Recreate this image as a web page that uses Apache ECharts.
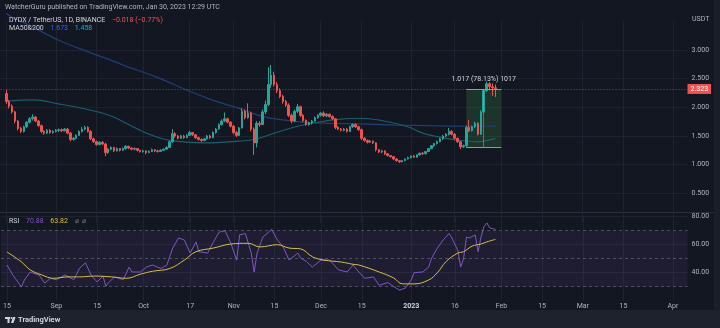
<!DOCTYPE html>
<html>
<head>
<meta charset="utf-8">
<script src="https://cdn.jsdelivr.net/npm/echarts@6/dist/echarts.min.js"></script>
<style>
  html, body { margin: 0; padding: 0; background: #131722; }
  #chart { width: 720px; height: 328px; }
</style>
</head>
<body>
<div id="chart"></div>
<script>
// DYDX / TetherUS daily candles from 2022-08-15 to 2023-01-30: [open, close, low, high]
const firstDay = '2022-08-15';
const candles = [
  [2.24,2.10,2.06,2.30],[2.10,2.02,1.98,2.13],[2.02,1.92,1.89,2.05],[1.92,1.76,1.72,1.94],[1.76,1.63,1.60,1.78],
  [1.63,1.58,1.55,1.66],[1.58,1.66,1.56,1.68],[1.66,1.74,1.64,1.76],[1.74,1.80,1.72,1.83],[1.80,1.83,1.77,1.88],
  [1.83,1.76,1.74,1.85],[1.76,1.68,1.66,1.78],[1.68,1.58,1.55,1.70],[1.58,1.55,1.52,1.60],[1.55,1.60,1.53,1.62],
  [1.60,1.56,1.54,1.62],[1.56,1.58,1.54,1.60],[1.58,1.60,1.56,1.62],[1.60,1.61,1.57,1.63],[1.61,1.59,1.57,1.63],
  [1.59,1.62,1.58,1.64],[1.62,1.55,1.53,1.64],[1.55,1.44,1.41,1.57],[1.44,1.46,1.42,1.48],[1.46,1.51,1.44,1.53],
  [1.51,1.58,1.50,1.60],[1.58,1.62,1.56,1.66],[1.62,1.65,1.60,1.68],[1.65,1.58,1.56,1.67],[1.58,1.45,1.43,1.60],
  [1.45,1.40,1.38,1.47],[1.40,1.35,1.33,1.42],[1.35,1.39,1.34,1.41],[1.39,1.36,1.34,1.41],[1.36,1.21,1.15,1.38],
  [1.21,1.27,1.19,1.29],[1.27,1.30,1.25,1.32],[1.30,1.24,1.22,1.31],[1.24,1.28,1.23,1.30],[1.28,1.25,1.23,1.29],
  [1.25,1.28,1.24,1.30],[1.28,1.32,1.26,1.34],[1.32,1.29,1.27,1.33],[1.29,1.27,1.25,1.30],[1.27,1.28,1.25,1.30],
  [1.28,1.25,1.23,1.29],[1.25,1.23,1.21,1.26],[1.23,1.24,1.21,1.26],[1.24,1.21,1.18,1.25],[1.21,1.23,1.20,1.25],
  [1.23,1.26,1.22,1.28],[1.26,1.24,1.22,1.27],[1.24,1.23,1.21,1.26],[1.23,1.25,1.22,1.27],[1.25,1.27,1.24,1.28],
  [1.27,1.30,1.26,1.32],[1.30,1.40,1.29,1.42],[1.40,1.54,1.38,1.62],[1.54,1.50,1.47,1.57],[1.50,1.46,1.44,1.52],
  [1.46,1.50,1.45,1.52],[1.50,1.47,1.45,1.52],[1.47,1.51,1.46,1.53],[1.51,1.56,1.50,1.59],[1.56,1.52,1.50,1.57],
  [1.52,1.47,1.45,1.53],[1.47,1.44,1.42,1.49],[1.44,1.42,1.40,1.46],[1.42,1.45,1.41,1.47],[1.45,1.50,1.44,1.52],
  [1.50,1.47,1.45,1.52],[1.47,1.56,1.46,1.58],[1.56,1.62,1.54,1.64],[1.62,1.70,1.61,1.72],[1.70,1.76,1.68,1.79],
  [1.76,1.80,1.74,1.91],[1.80,1.74,1.72,1.82],[1.74,1.67,1.65,1.76],[1.67,1.56,1.53,1.69],[1.56,1.51,1.48,1.59],
  [1.51,1.64,1.50,1.66],[1.64,1.93,1.63,1.98],[1.93,1.82,1.79,1.96],[1.82,1.90,1.80,2.07],[1.90,1.62,1.58,1.92],
  [1.62,1.38,1.17,1.65],[1.38,1.72,1.30,1.76],[1.72,1.70,1.66,1.76],[1.70,1.92,1.69,1.96],[1.92,2.05,1.88,2.12],
  [2.05,2.40,2.02,2.70],[2.40,2.56,2.34,2.74],[2.56,2.40,2.36,2.62],[2.40,2.29,2.25,2.44],[2.29,2.19,2.16,2.33],
  [2.19,2.10,2.06,2.22],[2.10,2.04,2.01,2.13],[2.04,1.86,1.83,2.07],[1.86,1.76,1.72,1.89],[1.76,1.93,1.74,1.96],
  [1.93,2.01,1.90,2.06],[2.01,1.86,1.83,2.03],[1.86,1.77,1.74,1.88],[1.77,1.70,1.68,1.79],[1.70,1.73,1.68,1.75],
  [1.73,1.76,1.70,1.78],[1.76,1.82,1.75,1.84],[1.82,1.86,1.80,1.88],[1.86,1.90,1.84,1.92],[1.90,1.85,1.83,1.93],
  [1.85,1.88,1.83,1.90],[1.88,1.84,1.82,1.89],[1.84,1.80,1.78,1.86],[1.80,1.65,1.62,1.81],[1.65,1.62,1.60,1.67],
  [1.62,1.60,1.58,1.64],[1.60,1.62,1.58,1.64],[1.62,1.58,1.56,1.64],[1.58,1.66,1.57,1.68],[1.66,1.70,1.64,1.72],
  [1.70,1.66,1.64,1.72],[1.66,1.61,1.59,1.68],[1.61,1.46,1.43,1.63],[1.46,1.42,1.40,1.48],[1.42,1.39,1.37,1.44],
  [1.39,1.41,1.38,1.43],[1.41,1.38,1.36,1.42],[1.38,1.26,1.23,1.39],[1.26,1.22,1.20,1.27],[1.22,1.24,1.20,1.26],
  [1.24,1.19,1.17,1.25],[1.19,1.16,1.14,1.20],[1.16,1.14,1.12,1.17],[1.14,1.10,1.08,1.15],[1.10,1.07,1.05,1.11],
  [1.07,1.05,1.03,1.08],[1.05,1.07,1.04,1.08],[1.07,1.10,1.06,1.11],[1.10,1.12,1.09,1.14],[1.12,1.15,1.11,1.16],
  [1.15,1.13,1.12,1.17],[1.13,1.17,1.12,1.18],[1.17,1.20,1.16,1.21],[1.20,1.19,1.17,1.22],[1.19,1.23,1.18,1.24],
  [1.23,1.28,1.22,1.29],[1.28,1.33,1.27,1.34],[1.33,1.37,1.31,1.38],[1.37,1.40,1.35,1.42],[1.40,1.45,1.39,1.47],
  [1.45,1.50,1.43,1.52],[1.50,1.53,1.48,1.55],[1.53,1.58,1.51,1.64],[1.58,1.53,1.51,1.60],[1.53,1.46,1.44,1.55],
  [1.46,1.40,1.38,1.47],[1.40,1.31,1.27,1.41],[1.31,1.33,1.29,1.35],[1.33,1.65,1.302,1.68],[1.65,1.59,1.57,1.78],
  [1.59,1.66,1.58,1.68],[1.66,1.72,1.64,1.75],[1.72,1.53,1.51,1.74],[1.53,1.92,1.52,1.95],[1.92,2.29,1.90,2.32],
  [2.29,2.41,2.27,2.45],[2.41,2.36,2.30,2.44],[2.36,2.341,2.20,2.42],[2.341,2.323,2.18,2.40]
];

// Moving averages: [days after firstDay, value]
const ma200 = [
  [0,3.64],[2,3.57],[8,3.43],[18,3.17],[29,2.95],[35,2.84],[41,2.72],[51,2.54],[63,2.28],[69,2.16],
  [73,2.09],[78,2.01],[81,1.97],[88,1.84],[100,1.75],[111,1.72],[122,1.71],[134,1.69],[145,1.68],[157,1.672],[168,1.673]
];
const ma50 = [
  [0,2.11],[9,2.13],[18,2.06],[29,1.95],[36,1.85],[42,1.70],[48,1.55],[53,1.46],[58,1.41],[68,1.38],
  [80,1.41],[85,1.44],[91,1.53],[100,1.67],[107,1.74],[114,1.79],[121,1.81],[128,1.78],[138,1.66],[143,1.55],
  [149,1.48],[156,1.42],[161,1.40],[164,1.41],[168,1.458]
];

// RSI(14) and its moving average: [days after firstDay, value]
const rsi = [
  [0,45.5],[2,38.4],[5,29.8],[6,34.8],[8,40.5],[11,38.4],[13,32.6],[15,36],[17,35],[20,38.4],[23,35],[25,43.3],
  [27,47],[29,38],[31,33.4],[33,37.6],[34,30.5],[35,33],[37,37],[40,35],[42,44],[43,40.5],[46,40.5],[48,44],
  [50,45.5],[53,43],[55,45.5],[57,57.6],[59,64.8],[61,63.4],[63,54],[65,62],[66,55],[69,54],[71,62],[73,69],
  [75,70],[77,61],[79,49],[80,67],[82,68],[84,54],[85,40.5],[86,54],[88,65.5],[90,69],[91,71],[93,63.4],
  [95,58.4],[97,49],[100,54],[101,50.5],[103,48],[105,44],[108,49],[111,49],[114,42],[117,40.5],[119,45.5],
  [121,40.5],[123,36],[126,37],[128,31],[131,33],[133,30],[135,27.6],[137,29],[139,34.8],[140,40],[143,40.5],
  [145,44],[146,50.4],[148,57.6],[150,63.4],[152,68],[153,64.8],[155,56],[156,44],[157,50],[158,65.5],
  [159,64.8],[161,67],[162,55],[163,65.5],[164,72.8],[165,75.6],[166,72],[167,71.5],[168,70.88]
];
const rsiMa = [
  [0,54.8],[5,47.7],[8,42],[12,38.4],[16,36],[21,37],[25,37],[30,37.6],[36,37],[41,36],[46,39],[50,41],
  [56,43],[61,49],[65,55],[71,57.6],[77,60.5],[83,61],[87,58.4],[93,60],[97,57.6],[101,57],[105,51.4],
  [109,49],[115,47.6],[119,46],[121,45.5],[128,40.5],[133,36.2],[136,32],[140,32],[145,34.8],[148,40],
  [151,48],[155,54],[157,55],[160,59],[163,60.5],[165,62],[168,63.82]
];

// Time scale labels
const timeTicks = [
  ['2022-08-15','15'],['2022-09-01','Sep'],['2022-09-15','15'],['2022-10-01','Oct'],['2022-10-17','17'],
  ['2022-11-01','Nov'],['2022-11-15','15'],['2022-12-01','Dec'],['2022-12-15','15'],['2023-01-01','2023'],
  ['2023-01-16','16'],['2023-02-01','Feb'],['2023-02-15','15'],['2023-03-01','Mar'],['2023-03-15','15'],
  ['2023-04-01','Apr']
];

// Price range measurement drawn on the chart
const rangeFromDay = 158, rangeToDay = 170;
const rangeLow = 1.302, rangeHigh = 2.319;
const rangeText = '1.017 (78.13%) 1017';

// ---- build the category scale (one slot per calendar day) ----
const DAY = 86400000;
const scaleStart = Date.UTC(2022, 7, 13);
const scaleEnd = Date.UTC(2023, 3, 6);
const days = [];
for (let t = scaleStart; t <= scaleEnd; t += DAY) days.push(new Date(t).toISOString().slice(0, 10));
const base = days.indexOf(firstDay);
const dayAt = (n) => days[base + n];

const tickMap = new Map(timeTicks);
const isTick = (i, v) => tickMap.has(v);

const candleData = candles.map((c, i) => [dayAt(i), c[0], c[1], c[2], c[3]]);
const pts = (arr) => arr.map(([n, v]) => [dayAt(n), v]);

const last = candles[candles.length - 1];
const prev = candles[candles.length - 2];
const chg = last[1] - prev[1];
const sign = chg < 0 ? '\u2212' : '+';
const chgText = sign + Math.abs(chg).toFixed(3) + ' (' + sign + Math.abs(chg / prev[1] * 100).toFixed(2) + '%)';

const UP = '#26a69a', DOWN = '#ef5350';
const GRID = '#1f2330';
const AXIS_TXT = '#b2b5be';
const FONT = 'Roboto, "Noto Sans", sans-serif';
const CLEAR = 'rgba(0,0,0,0)';

const chart = echarts.init(document.getElementById('chart'), null, { renderer: 'canvas' });

const xBase = {
  type: 'category',
  data: days,
  boundaryGap: false,
  axisLine: { show: false },
  axisTick: { show: false },
  splitLine: { show: true, interval: isTick, lineStyle: { color: GRID, width: 1 } }
};

chart.setOption({
  animation: false,
  backgroundColor: '#131722',
  textStyle: { fontFamily: FONT },
  grid: [
    { left: 0.5, right: 32.5, top: 21.3, bottom: 106 },
    { left: 0.5, right: 32.5, top: 216.7, bottom: 27.3 }
  ],
  xAxis: [
    Object.assign({}, xBase, { gridIndex: 0, axisLabel: { show: false } }),
    Object.assign({}, xBase, {
      gridIndex: 1,
      axisLabel: {
        show: true, interval: isTick, margin: 2,
        color: AXIS_TXT, fontSize: 7, fontFamily: FONT,
        formatter: (v) => {
          const t = tickMap.get(v) || '';
          return /^\d{4}$/.test(t) ? '{y|' + t + '}' : t;
        },
        rich: { y: { fontWeight: 'bold', color: '#d1d4dc', fontSize: 7, fontFamily: FONT } }
      }
    })
  ],
  yAxis: [
    {
      type: 'value', gridIndex: 0, position: 'right', min: 0, max: 3.5, interval: 0.5,
      axisLine: { show: false }, axisTick: { show: false },
      axisLabel: { color: AXIS_TXT, fontSize: 7, margin: 4, showMinLabel: false, showMaxLabel: false,
        formatter: (v) => v.toFixed(3) },
      splitLine: { show: true, lineStyle: { color: [CLEAR, GRID, GRID, GRID, GRID, GRID, GRID, CLEAR] } }
    },
    {
      type: 'value', gridIndex: 1, position: 'right', min: 20, max: 80, interval: 20,
      axisLine: { show: false }, axisTick: { show: false },
      axisLabel: { color: AXIS_TXT, fontSize: 7, margin: 4, showMinLabel: false,
        formatter: (v) => v.toFixed(2) },
      splitLine: { show: true, lineStyle: { color: [CLEAR, GRID, GRID, GRID] } }
    }
  ],
  series: [
    {
      name: 'DYDX', type: 'candlestick', xAxisIndex: 0, yAxisIndex: 0,
      data: candleData, encode: { x: 0, y: [1, 2, 3, 4] },
      barWidth: 2,
      itemStyle: { color: UP, color0: DOWN, borderColor: UP, borderColor0: DOWN, borderWidth: 1 },
      markArea: {
        silent: true,
        itemStyle: { color: 'rgba(67,160,71,0.22)' },
        data: [[{ xAxis: dayAt(rangeFromDay), yAxis: rangeLow }, { xAxis: dayAt(rangeToDay), yAxis: rangeHigh }]]
      },
      markLine: {
        silent: true, symbol: ['none', 'none'], animation: false,
        data: [
          {
            yAxis: last[1],
            lineStyle: { color: 'rgba(239,83,80,0.6)', type: [1, 2], width: 1 },
            label: { show: true, position: 'end', distance: 0, formatter: last[1].toFixed(3),
              color: '#ffffff', backgroundColor: DOWN, padding: [2, 3, 1, 3], fontSize: 7, fontFamily: FONT }
          },
          [
            { coord: [dayAt(rangeFromDay), rangeHigh],
              lineStyle: { color: '#9598a1', type: 'solid', width: 1 },
              label: { show: true, position: 'middle', formatter: rangeText, color: '#d1d4dc',
                fontSize: 7, fontFamily: FONT, distance: 6 } },
            { coord: [dayAt(rangeToDay), rangeHigh] }
          ],
          [
            { coord: [dayAt(rangeFromDay), rangeLow], lineStyle: { color: '#9598a1', type: 'solid', width: 1 }, label: { show: false } },
            { coord: [dayAt(rangeToDay), rangeLow] }
          ],
          [
            { coord: [dayAt((rangeFromDay + rangeToDay) / 2), rangeLow], lineStyle: { color: 'rgba(149,152,161,0.6)', type: 'solid', width: 1 }, label: { show: false } },
            { coord: [dayAt((rangeFromDay + rangeToDay) / 2), rangeHigh] }
          ]
        ]
      },
      z: 3
    },
    {
      name: 'MA200', type: 'line', xAxisIndex: 0, yAxisIndex: 0, data: pts(ma200),
      smooth: 0.4, showSymbol: false, clip: false, connectNulls: true,
      lineStyle: { color: '#1f3d73', width: 1.3 }, z: 2
    },
    {
      name: 'MA50', type: 'line', xAxisIndex: 0, yAxisIndex: 0, data: pts(ma50),
      smooth: 0.4, showSymbol: false, connectNulls: true,
      lineStyle: { color: '#19606c', width: 1.1 }, z: 2
    },
    {
      name: 'RSI', type: 'line', xAxisIndex: 1, yAxisIndex: 1, data: pts(rsi),
      showSymbol: false, connectNulls: true,
      lineStyle: { color: '#7e57c2', width: 1 },
      markArea: { silent: true, itemStyle: { color: 'rgba(126,87,194,0.1)' }, data: [[{ yAxis: 30 }, { yAxis: 70 }]] },
      markLine: {
        silent: true, symbol: ['none', 'none'], label: { show: false },
        lineStyle: { color: 'rgba(120,123,134,0.55)', type: [3, 3], width: 1 },
        data: [{ yAxis: 70 }, { yAxis: 50 }, { yAxis: 30 }]
      }
    },
    {
      name: 'RSI MA', type: 'line', xAxisIndex: 1, yAxisIndex: 1, data: pts(rsiMa),
      smooth: 0.4, showSymbol: false, connectNulls: true,
      lineStyle: { color: '#d6c23f', width: 1 }
    }
  ],
  graphic: [
    { type: 'rect', silent: true, z: -10, shape: { x: 0, y: 310, width: 720, height: 18 }, style: { fill: '#1e222d' } },
    { type: 'rect', silent: true, z: -10, shape: { x: 714, y: 0, width: 6, height: 310 }, style: { fill: '#1a1e29' } },
    { type: 'line', silent: true, shape: { x1: 0, y1: 212.5, x2: 714, y2: 212.5 }, style: { stroke: '#2a2e39', lineWidth: 1 } },
    { type: 'text', silent: true, zlevel: 1, x: 5, y: 7,
      style: { text: 'WatcherGuru published on TradingView.com, Jan 30, 2023 12:29 UTC',
        fill: '#b2b5be', font: '7px ' + FONT, textVerticalAlign: 'middle' } },
    { type: 'text', silent: true, zlevel: 1, x: 9, y: 20,
      style: { text: '{a|DYDX / TetherUS, 1D, BINANCE}  {r|' + chgText + '}',
        textVerticalAlign: 'middle',
        rich: { a: { fill: '#d1d4dc', font: '7px ' + FONT }, r: { fill: '#ef5350', font: '7px ' + FONT } } } },
    { type: 'text', silent: true, zlevel: 1, x: 9, y: 28.7,
      style: { text: '{a|MA50&200}  {b|' + ma200[ma200.length - 1][1].toFixed(3) + '}  {c|' + ma50[ma50.length - 1][1].toFixed(3) + '}',
        textVerticalAlign: 'middle',
        rich: { a: { fill: '#d1d4dc', font: '7px ' + FONT }, b: { fill: '#2962ff', font: '7px ' + FONT }, c: { fill: '#00bcd4', font: '7px ' + FONT } } } },
    { type: 'text', silent: true, zlevel: 1, x: 692, y: 19,
      style: { text: 'USDT', fill: AXIS_TXT, font: '7px ' + FONT, textVerticalAlign: 'middle' } },
    { type: 'text', silent: true, zlevel: 1, x: 9, y: 221,
      style: { text: '{a|RSI}  {b|' + rsi[rsi.length - 1][1].toFixed(2) + '}  {c|' + rsiMa[rsiMa.length - 1][1].toFixed(2) + '}  {d|\u2300  \u2300}',
        textVerticalAlign: 'middle',
        rich: { a: { fill: '#d1d4dc', font: '7px ' + FONT }, b: { fill: '#7e57c2', font: '7px ' + FONT },
          c: { fill: '#d6c23f', font: '7px ' + FONT }, d: { fill: '#787b86', font: '7px ' + FONT } } } },
    // TradingView mark in the footer
    { type: 'rect', silent: true, shape: { x: 5, y: 317, width: 5, height: 2 }, style: { fill: '#d1d4dc' } },
    { type: 'rect', silent: true, shape: { x: 7.5, y: 317, width: 2, height: 6 }, style: { fill: '#d1d4dc' } },
    { type: 'circle', silent: true, shape: { cx: 11.5, cy: 318, r: 1 }, style: { fill: '#d1d4dc' } },
    { type: 'polygon', silent: true, shape: { points: [[13, 317], [15.5, 317], [13.5, 323], [11, 323]] }, style: { fill: '#d1d4dc' } },
    { type: 'text', silent: true, x: 18, y: 320.5,
      style: { text: 'TradingView', fill: '#d1d4dc', font: 'bold 7.5px ' + FONT, textVerticalAlign: 'middle' } }
  ]
});
</script>
</body>
</html>
